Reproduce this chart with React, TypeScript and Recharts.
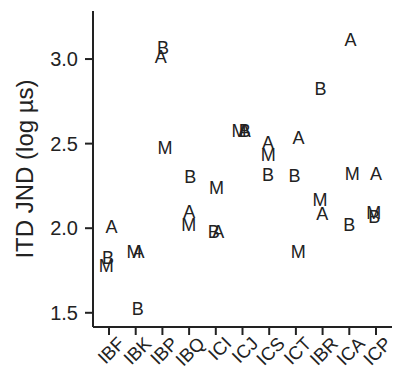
import { ScatterChart, Scatter, XAxis, YAxis } from "recharts";

const CATEGORIES = ["IBF", "IBK", "IBP", "IBQ", "ICI", "ICJ", "ICS", "ICT", "IBR", "ICA", "ICP"];
const Y_TICKS = [1.5, 2.0, 2.5, 3.0];

// log ITD JND per listener, one array per condition letter
const A_VALUES = [2.01, 1.865, 3.012, 2.096, 1.983, 2.579, 2.508, 2.535, 2.088, 3.114, 2.326];
const B_VALUES = [1.828, 1.528, 3.069, 2.307, 1.983, 2.579, 2.319, 2.309, 2.823, 2.019, 2.068];
const M_VALUES = [1.777, 1.865, 2.476, 2.019, 2.239, 2.579, 2.433, 1.861, 2.167, 2.326, 2.094];

// horizontal jitter (category units)
const A_JITTER = [0.09, 0.1, -0.06, 0.01, 0.09, 0.08, -0.04, 0.1, -0.01, 0.05, 0];
const B_JITTER = [-0.04, 0.08, 0.02, 0.04, -0.08, 0.08, -0.04, -0.05, -0.08, 0, -0.06];
const M_JITTER = [-0.1, -0.06, 0.1, -0.01, 0.03, -0.13, -0.04, 0.09, -0.1, 0.11, -0.08];

const FONT = "'Liberation Sans', Arial, sans-serif";
const INK = "#222";

function toPoints(values: number[], jitter: number[]) {
  return values.map((y, i) => ({ x: i + 1 + jitter[i], y }));
}

function letterShape(letter: string) {
  return (props: any) => (
    <text
      x={props.cx}
      y={props.cy}
      dy="0.36em"
      textAnchor="middle"
      fontSize={18}
      fontFamily={FONT}
      fill={INK}
    >
      {letter}
    </text>
  );
}

function XTick(props: any) {
  const { x, y, payload } = props;
  const label = CATEGORIES[Math.round(payload.value) - 1] ?? "";
  return (
    <text
      transform={`translate(${x + 12},${y + 3}) rotate(-45)`}
      textAnchor="end"
      dy="0.36em"
      fontSize={18.5}
      fontFamily={FONT}
      fill={INK}
    >
      {label}
    </text>
  );
}

function YTitle(props: any) {
  const vb = props.viewBox ?? { x: 0, y: 11, width: 93, height: 316 };
  const cx = vb.x + 33;
  const cy = vb.y + vb.height / 2;
  return (
    <text
      transform={`rotate(-90, ${cx}, ${cy})`}
      x={cx}
      y={cy}
      textAnchor="middle"
      fontSize={24}
      fontFamily={FONT}
      fill={INK}
    >
      ITD JND (log µs)
    </text>
  );
}

export default function App() {
  return (
    <div style={{ position: "absolute", left: 0, top: 0, background: "#fff" }}>
      <ScatterChart width={394} height={370} margin={{ top: 11, right: 2, bottom: 0, left: 0 }}>
        <XAxis
          type="number"
          dataKey="x"
          domain={[0.4, 11.6]}
          ticks={CATEGORIES.map((_, i) => i + 1)}
          interval={0}
          allowDataOverflow
          height={43}
          tickSize={8}
          tick={<XTick />}
          axisLine={{ stroke: INK, strokeWidth: 2 }}
          tickLine={{ stroke: INK, strokeWidth: 2 }}
        />
        <YAxis
          type="number"
          dataKey="y"
          domain={[1.416, 3.284]}
          ticks={Y_TICKS}
          interval={0}
          allowDataOverflow
          width={93}
          tickSize={8}
          tickMargin={7}
          tickFormatter={(v: number) => v.toFixed(1)}
          tick={{ fontSize: 20, fontFamily: FONT, fill: INK }}
          axisLine={{ stroke: INK, strokeWidth: 2 }}
          tickLine={{ stroke: INK, strokeWidth: 2 }}
          label={<YTitle />}
        />
        <Scatter data={toPoints(A_VALUES, A_JITTER)} shape={letterShape("A")} isAnimationActive={false} />
        <Scatter data={toPoints(B_VALUES, B_JITTER)} shape={letterShape("B")} isAnimationActive={false} />
        <Scatter data={toPoints(M_VALUES, M_JITTER)} shape={letterShape("M")} isAnimationActive={false} />
      </ScatterChart>
    </div>
  );
}
